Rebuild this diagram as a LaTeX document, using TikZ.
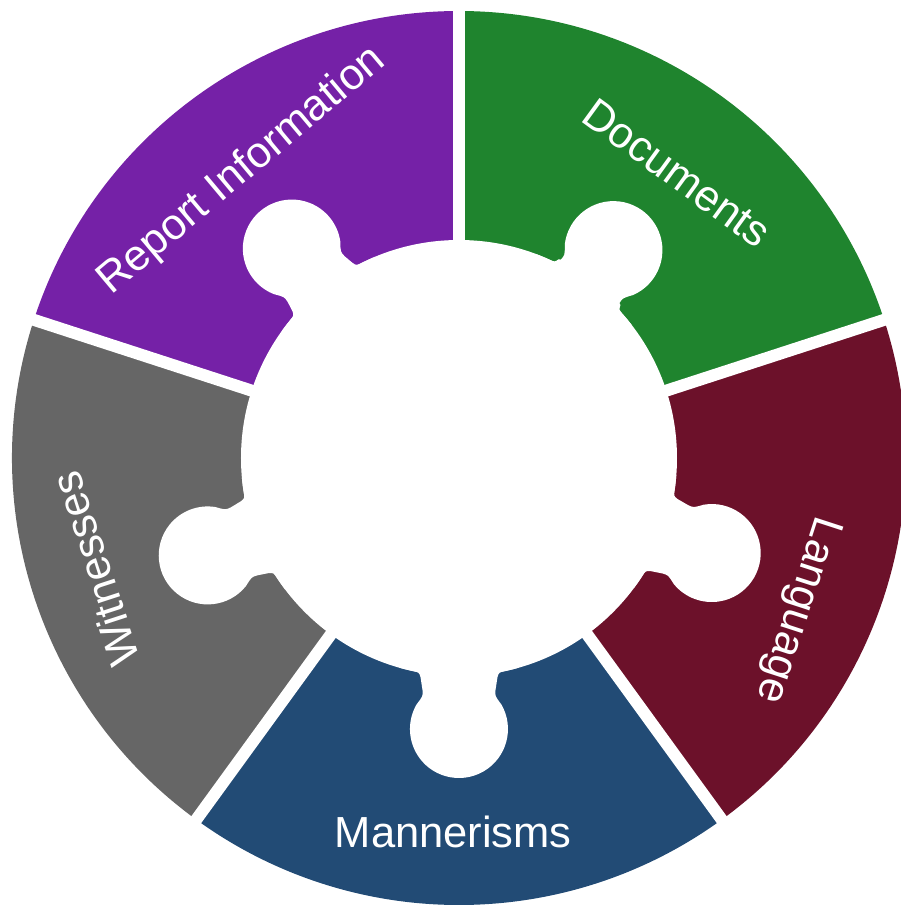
\documentclass[tikz,border=0pt]{standalone}
\usepackage{fontspec}
\setmainfont{Liberation Sans}
\definecolor{cRapport}{RGB}{117,33,167}
\definecolor{cDocuments}{RGB}{31,132,46}
\definecolor{cLangage}{RGB}{108,17,42}
\definecolor{cManieres}{RGB}{34,75,117}
\definecolor{cTemoins}{RGB}{102,102,102}
\tikzset{etiquette/.style={text=white,inner sep=0pt,font=\fontsize{43.5}{52}\selectfont}}
% tenon blanc : #1 = angle, #2 = distance du centre
\newcommand{\tenon}[2]{%
  \begin{scope}[rotate=#1]
    \fill[white] (200,0) -- (16:218) arc (16:12.5:218) .. controls (214.3,40) .. (219,38.5)
      -- (#2-39,36.5) .. controls (#2-33,36) .. (#2-24.5,42.4) arc (120:-120:49)
      .. controls (#2-33,-36) .. (#2-39,-36.5) -- (219,-38.5) .. controls (214.3,-40) .. (212.8,-47.2)
      arc (-12.5:-16:218) -- cycle;
  \end{scope}}
\begin{document}
\begin{tikzpicture}[x=1pt,y=1pt]
    \useasboundingbox (-459,-447) rectangle (441,458);
    \coordinate (O) at (0,0);

    % ------ secteurs ------
    \fill[cRapport]   (O) -- (90:447)   arc (90:162:447)   -- cycle;
    \fill[cDocuments] (O) -- (18:447)   arc (18:90:447)    -- cycle;
    \fill[cLangage]   (O) -- (-54:447)  arc (-54:18:447)   -- cycle;
    \fill[cManieres]  (O) -- (-126:447) arc (-126:-54:447) -- cycle;
    \fill[cTemoins]   (O) -- (162:447)  arc (162:234:447)  -- cycle;

    % ------ centre et tenons ------
    \fill[white] (O) circle (218);
    \tenon{128.6}{268}
    \tenon{53.4}{259}
    \tenon{-20.6}{270}
    \tenon{-90}{271}
    \tenon{201.2}{269.5}

    % ------ separations ------
    \foreach \a in {90,18,-54,-126,162}
      \draw[white,line width=12pt] (O) -- (\a:470);

    % ------ textes ------
    \node[etiquette,rotate=40]   (rapport)   at (-217,287)  {Report Information};
    \node[etiquette,rotate=-36]  (documents) at (218,285)   {Documents};
    \node[etiquette,rotate=-108] (langage)   at (338,-152)  {Language};
    \node[etiquette]             (manieres)  at (-5.7,-373.5) {Mannerisms};
    \node[etiquette,rotate=108]  (temoins)   at (-364,-111) {Witnesses};
\end{tikzpicture}
\end{document}
